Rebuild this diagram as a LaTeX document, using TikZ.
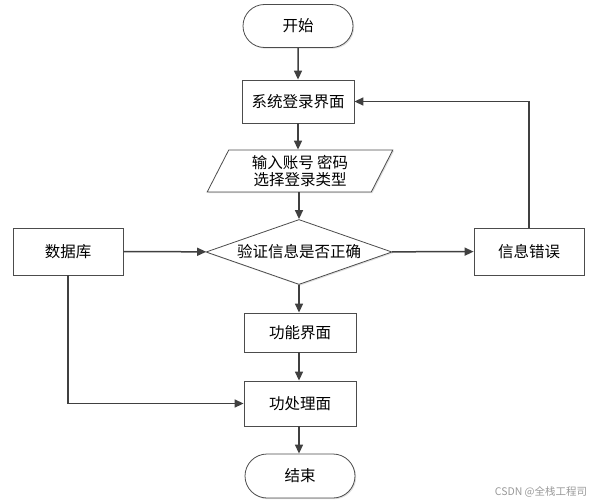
\documentclass[tikz,border=0pt]{standalone}
\usepackage{fontspec}
\newfontfamily\cjk{Noto Sans CJK SC}
\usetikzlibrary{arrows.meta,shapes.misc,shapes.geometric,shadows}

\begin{document}
\begin{tikzpicture}[
                x=1pt,
                y=-1pt,
                shape box/.style={
                    draw=black!70,
                    line width=0.8pt,
                    fill=white,
                    font=\cjk\fontsize{15.5}{19}\selectfont,
                    inner sep=1pt,
                    drop shadow={shadow xshift=1.2pt,shadow yshift=-1.2pt,opacity=0.25}
                },
                proc/.style={
                    shape box,
                    rectangle,
                    minimum width=112pt
                },
                terminal/.style={
                    shape box,
                    rounded rectangle,
                    minimum width=112pt,
                    minimum height=43pt
                },
                io/.style={
                    shape box,
                    trapezium,
                    trapezium left angle=66,
                    trapezium right angle=114,
                    trapezium stretches=true,
                    minimum width=186pt,
                    minimum height=42pt,
                    align=center
                },
                decision/.style={
                    shape box,
                    diamond,
                    aspect=2.9,
                    minimum width=186pt,
                    minimum height=65pt
                },
                flow/.style={
                    draw=black!75,
                    line width=1.5pt,
                    -{Triangle[length=9pt,width=8pt]}
                }
            ]

        \useasboundingbox (0,0) rectangle (593,503);

        % main column
        \node[terminal] (start) at (298,26) {开始};
        \node[proc, minimum height=43pt] (login) at (298,101.5) {系统登录界面};
        \node[io] (input) at (300,171) {输入账号 密码\\[-2pt]选择登录类型};
        \node[decision] (check) at (299,252) {验证信息是否正确};
        \node[proc, minimum height=39pt] (func) at (300,332.5) {功能界面};
        \node[proc, minimum height=45pt] (handle) at (300,403.5) {功处理面};
        \node[terminal, minimum height=44pt] (stop) at (300,476) {结束};

        % side boxes
        \node[proc, minimum width=110pt, minimum height=47pt] (db) at (68,251.5) {数据库};
        \node[proc, minimum width=110pt, minimum height=47pt] (err) at (529,251.5) {信息错误};

        % watermark
        \node[text=black!40, font=\cjk\fontsize{10.5}{12}\selectfont, inner sep=0pt]
            (mark) at (541,492) {CSDN @全栈工程司};

        % connectors
        \draw[flow] (start) -- (login);
        \draw[flow] (login) -- (login |- input.north);
        \draw[flow] (input.south -| check.north) -- (check.north);
        \draw[flow] (db) -- (check);
        \draw[flow] (check) -- (err);
        \draw[flow] (err.north) |- (login.east);
        \draw[flow] (check.south) -- (check.south |- func.north);
        \draw[flow] (func.south -| check.south) -- (check.south |- handle.north);
        \draw[flow] (db.south) |- (handle.west);
        \draw[flow] (handle.south -| check.south) -- (check.south |- stop.north);

            \end{tikzpicture}
\end{document}
